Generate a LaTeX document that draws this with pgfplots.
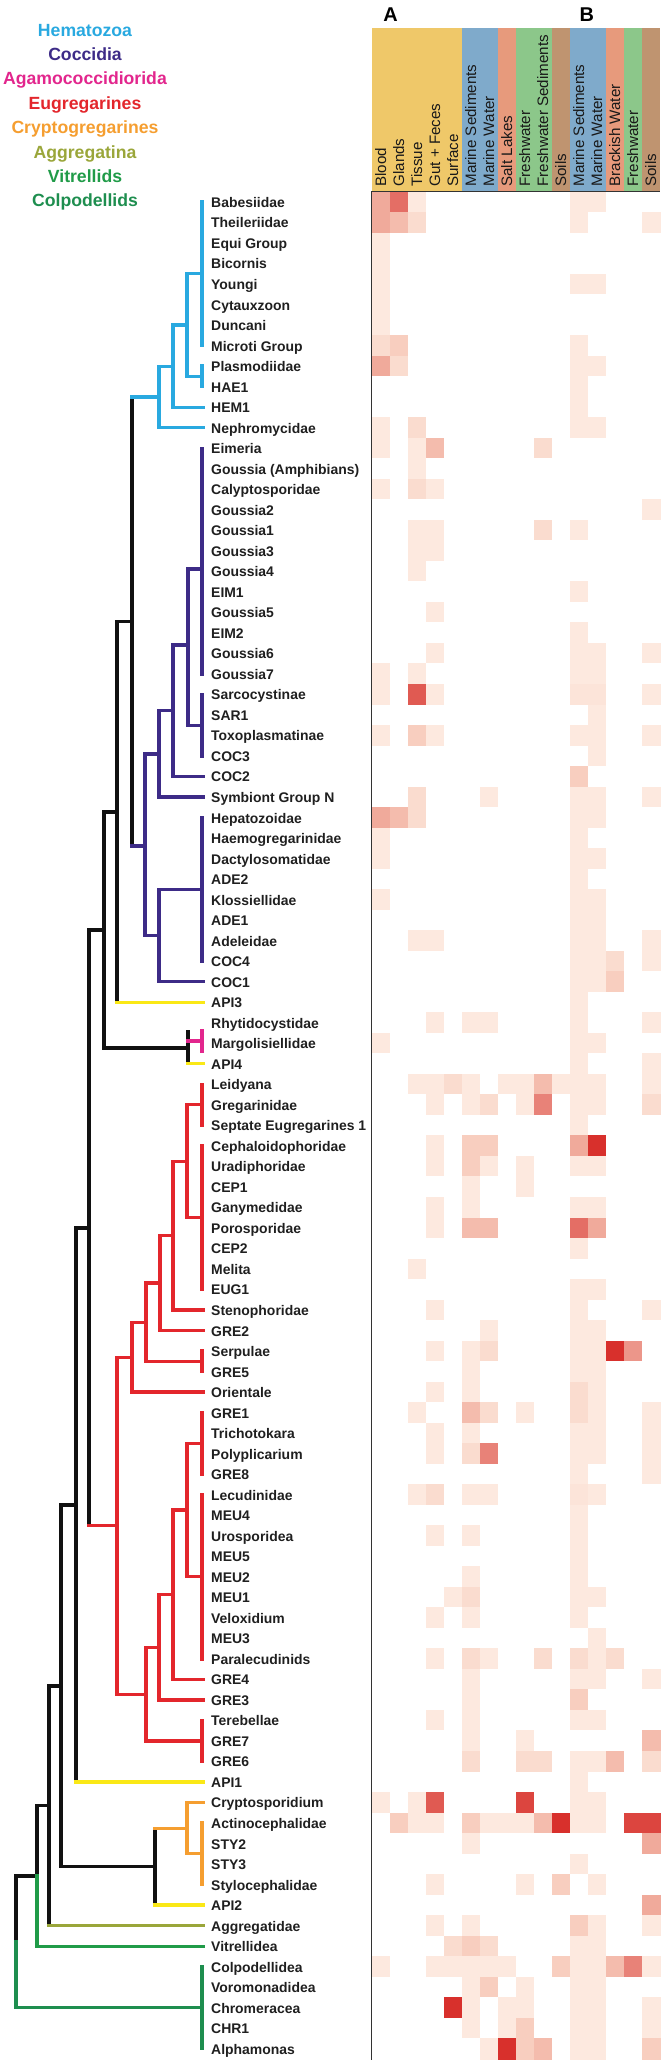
\documentclass[border=0pt]{standalone}
\usepackage{fontspec}
\setmainfont{Liberation Sans}
\usepackage{pgfplots}
\usepackage{pgfplotstable}
\pgfplotsset{compat=1.18}

\definecolor{hema}{HTML}{29A9E0}
\definecolor{cocc}{HTML}{3D2B87}
\definecolor{agam}{HTML}{E2268D}
\definecolor{eugr}{HTML}{E3262C}
\definecolor{cryp}{HTML}{F59E30}
\definecolor{aggr}{HTML}{9AA63A}
\definecolor{vitr}{HTML}{209B48}
\definecolor{colp}{HTML}{1E8E4F}
\definecolor{apiy}{HTML}{FAE816}
\definecolor{treeblk}{HTML}{111111}
\definecolor{hyel}{HTML}{EFC869}
\definecolor{hblu}{HTML}{7FAACB}
\definecolor{hsal}{HTML}{E79A7C}
\definecolor{hgrn}{HTML}{8CC78A}
\definecolor{hbrn}{HTML}{BF9470}
\definecolor{gridc}{HTML}{333333}

\tikzset{tr/.style={line width=3.3bp, line cap=rect, line join=miter},
  hdr/.style={rotate=90, anchor=west, inner sep=0pt, text height=10.9bp, text depth=0pt, text=black!90, font=\fontsize{15.2}{16}\selectfont}}
\pgfplotsset{brd/.style={color=gridc, line width=1.2bp, line cap=rect}}

% rows: taxa top to bottom; columns: A (Blood..Surface), environments A, environments B
\pgfplotstableread{
c0 c1 c2 c3 c4 c5 c6 c7 c8 c9 c10 c11 c12 c13 c14 c15
3 4.5 1 0 0 0 0 0 0 0 0 1 1 0 0 0
3 2.5 1.5 0 0 0 0 0 0 0 0 1 0 0 0 1
1 0 0 0 0 0 0 0 0 0 0 0 0 0 0 0
1 0 0 0 0 0 0 0 0 0 0 0 0 0 0 0
1 0 0 0 0 0 0 0 0 0 0 1 1 0 0 0
1 0 0 0 0 0 0 0 0 0 0 0 0 0 0 0
1 0 0 0 0 0 0 0 0 0 0 0 0 0 0 0
1.5 2 0 0 0 0 0 0 0 0 0 1 0 0 0 0
3 1.5 0 0 0 0 0 0 0 0 0 1 1 0 0 0
0 0 0 0 0 0 0 0 0 0 0 1 0 0 0 0
0 0 0 0 0 0 0 0 0 0 0 1 0 0 0 0
1 0 1.5 0 0 0 0 0 0 0 0 1 1 0 0 0
1 0 1 2.5 0 0 0 0 0 1.5 0 0 0 0 0 0
0 0 1 0 0 0 0 0 0 0 0 0 0 0 0 0
1 0 1.5 1 0 0 0 0 0 0 0 0 0 0 0 0
0 0 0 0 0 0 0 0 0 0 0 0 0 0 0 1
0 0 1 1 0 0 0 0 0 1.5 0 1 0 0 0 0
0 0 1 1 0 0 0 0 0 0 0 0 0 0 0 0
0 0 1 0 0 0 0 0 0 0 0 0 0 0 0 0
0 0 0 0 0 0 0 0 0 0 0 1 0 0 0 0
0 0 0 1 0 0 0 0 0 0 0 0 0 0 0 0
0 0 0 0 0 0 0 0 0 0 0 1 0 0 0 0
0 0 0 1 0 0 0 0 0 0 0 1 1 0 0 1
1 0 1 0 0 0 0 0 0 0 0 1 1 0 0 0
1 0 5 1 0 0 0 0 0 0 0 1.2 1.2 0 0 1
0 0 0 0 0 0 0 0 0 0 0 0 1 0 0 0
1 0 2 1 0 0 0 0 0 0 0 1 1 0 0 1
0 0 0 0 0 0 0 0 0 0 0 0 1 0 0 0
0 0 0 0 0 0 0 0 0 0 0 2 0 0 0 0
0 0 1.5 0 0 0 1 0 0 0 0 1 1 0 0 1
3 2.5 1.5 0 0 0 0 0 0 0 0 1 1 0 0 0
1 0 0 0 0 0 0 0 0 0 0 1 0 0 0 0
1 0 0 0 0 0 0 0 0 0 0 1 1 0 0 0
0 0 0 0 0 0 0 0 0 0 0 1 0 0 0 0
1 0 0 0 0 0 0 0 0 0 0 1 1 0 0 0
0 0 0 0 0 0 0 0 0 0 0 1 1 0 0 0
0 0 1 1 0 0 0 0 0 0 0 1 1 0 0 1
0 0 0 0 0 0 0 0 0 0 0 1 1 1.5 0 1
0 0 0 0 0 0 0 0 0 0 0 1 1 2 0 0
0 0 0 0 0 0 0 0 0 0 0 1 0 0 0 0
0 0 0 1 0 1 1 0 0 0 0 1 0 0 0 1
1 0 0 0 0 0 0 0 0 0 0 1 1 0 0 0
0 0 0 0 0 0 0 0 0 0 0 1 0 0 0 1
0 0 1 1 1.5 1 0 1 1 2.5 1 1 1 0 0 1
0 0 0 1 0 1 1.5 0 1 4 0 1 1 0 0 1.5
0 0 0 0 0 0 0 0 0 0 0 1 0 0 0 0
0 0 0 1 0 2 2 0 0 0 0 3 6 0 0 0
0 0 0 1 0 2 1 0 1 0 0 1 1 0 0 0
0 0 0 0 0 1 0 0 1 0 0 0 0 0 0 0
0 0 0 1 0 1 0 0 0 0 0 1 1 0 0 0
0 0 0 1 0 2.5 2.5 0 0 0 0 4.5 3 0 0 0
0 0 0 0 0 0 0 0 0 0 0 1 0 0 0 0
0 0 1 0 0 0 0 0 0 0 0 0 0 0 0 0
0 0 0 0 0 0 0 0 0 0 0 1 1 0 0 0
0 0 0 1 0 0 0 0 0 0 0 1 0 0 0 1
0 0 0 0 0 0 1 0 0 0 0 1 1 0 0 0
0 0 0 1 0 1 1.5 0 0 0 0 1 1 6 3.5 0
0 0 0 0 0 1 0 0 0 0 0 1 1 0 0 0
0 0 0 1 0 1 0 0 0 0 0 1.5 1 0 0 0
0 0 1 0 0 2.5 1.5 0 1 0 0 1.5 1 0 0 1
0 0 0 1 0 1 0 0 0 0 0 1 1 0 0 1
0 0 0 1 0 1.5 4 0 0 0 0 1 1 0 0 1
0 0 0 0 0 0 0 0 0 0 0 1 0 0 0 1
0 0 1 1.5 0 1 1 0 0 0 0 1.2 1 0 0 0
0 0 0 0 0 0 0 0 0 0 0 1 0 0 0 0
0 0 0 1 0 1 0 0 0 0 0 1 0 0 0 0
0 0 0 0 0 0 0 0 0 0 0 1 0 0 0 0
0 0 0 0 0 1 0 0 0 0 0 1 0 0 0 0
0 0 0 0 1 1.5 0 0 0 0 0 1 1 0 0 0
0 0 0 1 0 1 0 0 0 0 0 1 0 0 0 0
0 0 0 0 0 0 0 0 0 0 0 0 1 0 0 0
0 0 0 1 0 1.5 1 0 0 1.5 0 1.5 1 1.5 0 0
0 0 0 0 0 1 0 0 0 0 0 1 1 0 0 1
0 0 0 0 0 1 0 0 0 0 0 2 0 0 0 0
0 0 0 1 0 1 0 0 0 0 0 1 1 0 0 0
0 0 0 0 0 1 0 0 1 0 0 0 0 0 0 2.5
0 0 0 0 0 1.5 0 0 1.5 1.5 0 1 1 2.5 0 1.5
0 0 0 0 0 0 0 0 0 0 0 1 0 0 0 0
1 0 1 5 0 0 0 0 5.5 0 0 1 1 0 0 0
0 2 1 1 0 2 1 1 1 2.5 6 1 1 0 5.5 5.5
0 0 0 0 0 1 0 0 0 0 0 0 0 0 0 3
0 0 0 0 0 0 0 0 0 0 0 1 0 0 0 0
0 0 0 1 0 0 0 0 1 0 2 0 1 0 0 0
0 0 0 0 0 0 0 0 0 0 0 0 0 0 0 3
0 0 0 1 0 1 0 0 0 0 0 2 1 0 0 1
0 0 0 0 1.5 2 1.5 0 0 0 0 1 1 0 0 0
1 0 0 1 1 1 1 1 0 0 2 1 1 2.5 4 1
0 0 0 0 0 1 2 0 1 0 0 1 1 0 0 0
0 0 0 0 6 1 0 1 1 0 0 1 1 0 0 1
0 0 0 0 0 1 0 1 2 0 0 1 1 0 0 1
0 0 0 0 0 0 1 6 2 2.5 0 1 1 0 0 2
}\heat

\begin{document}
\begin{tikzpicture}
% ---------- tree, legend, header and panel letters (pixel coordinates) ----------
\begin{axis}[at={(0,0)}, anchor=south west, width=666bp, height=2064bp,
  scale only axis, xmin=0, xmax=666, ymin=0, ymax=2064, y dir=reverse,
  hide axis, clip=false, unbounded coords=jump]
% header bands
\addplot[fill=hyel, draw=none] coordinates {(371.7,28.3) (461.7,28.3) (461.7,191.7) (371.7,191.7)} -- cycle;
\addplot[fill=hblu, draw=none] coordinates {(461.7,28.3) (497.7,28.3) (497.7,191.7) (461.7,191.7)} -- cycle;
\addplot[fill=hsal, draw=none] coordinates {(497.7,28.3) (515.7,28.3) (515.7,191.7) (497.7,191.7)} -- cycle;
\addplot[fill=hgrn, draw=none] coordinates {(515.7,28.3) (551.7,28.3) (551.7,191.7) (515.7,191.7)} -- cycle;
\addplot[fill=hbrn, draw=none] coordinates {(551.7,28.3) (569.7,28.3) (569.7,191.7) (551.7,191.7)} -- cycle;
\addplot[fill=hblu, draw=none] coordinates {(569.7,28.3) (605.7,28.3) (605.7,191.7) (569.7,191.7)} -- cycle;
\addplot[fill=hsal, draw=none] coordinates {(605.7,28.3) (623.7,28.3) (623.7,191.7) (605.7,191.7)} -- cycle;
\addplot[fill=hgrn, draw=none] coordinates {(623.7,28.3) (641.7,28.3) (641.7,191.7) (623.7,191.7)} -- cycle;
\addplot[fill=hbrn, draw=none] coordinates {(641.7,28.3) (659.7,28.3) (659.7,191.7) (641.7,191.7)} -- cycle;
% header labels
\node[hdr] at (axis cs:380.7,186.7) {Blood};
\node[hdr] at (axis cs:398.7,186.7) {Glands};
\node[hdr] at (axis cs:416.7,186.7) {Tissue};
\node[hdr] at (axis cs:434.7,186.7) {Gut + Feces};
\node[hdr] at (axis cs:452.7,186.7) {Surface};
\node[hdr] at (axis cs:470.7,186.7) {Marine Sediments};
\node[hdr] at (axis cs:488.7,186.7) {Marine Water};
\node[hdr] at (axis cs:506.7,186.7) {Salt Lakes};
\node[hdr] at (axis cs:524.7,186.7) {Freshwater};
\node[hdr] at (axis cs:542.7,186.7) {Freshwater Sediments};
\node[hdr] at (axis cs:560.7,186.7) {Soils};
\node[hdr] at (axis cs:578.7,186.7) {Marine Sediments};
\node[hdr] at (axis cs:596.7,186.7) {Marine Water};
\node[hdr] at (axis cs:614.7,186.7) {Brackish Water};
\node[hdr] at (axis cs:632.7,186.7) {Freshwater};
\node[hdr] at (axis cs:650.7,186.7) {Soils};
% black backbone
\addplot[tr, color=treeblk] coordinates {
 (132,396.9) (132,846) (nan,nan)
 (132,621.5) (117,621.5) (117,1002.2) (nan,nan)
 (117,811.9) (104,811.9) (104,1048) (188,1048) (nan,nan)
 (188,1032) (188,1063.8) (nan,nan)
 (104,930) (89,930) (89,1525.7) (nan,nan)
 (89,1227.9) (76,1227.9) (76,1782) (nan,nan)
 (76,1505) (61,1505) (61,1866.7) (155,1866.7) (nan,nan)
 (155,1828.2) (155,1905.1) (nan,nan)
 (61,1685.9) (49,1685.9) (49,1925.6) (nan,nan)
 (49,1805.8) (37,1805.8) (37,1876) (nan,nan)
 (37,1876) (16,1876) (16,1942)};
% Hematozoa
\addplot[tr, color=hema] coordinates {
 (202,202) (202,345.6) (nan,nan)
 (202,366.1) (202,386.6) (nan,nan)
 (202,273.8) (187,273.8) (187,376.4) (202,376.4) (nan,nan)
 (187,325.1) (173,325.1) (173,407.2) (203,407.2) (nan,nan)
 (173,366.2) (159,366.2) (159,427.7) (203,427.7) (nan,nan)
 (159,396.9) (132,396.9)};
% Coccidia
\addplot[tr, color=cocc] coordinates {
 (202,448.2) (202,673.9) (nan,nan)
 (202,694.4) (202,756.0) (nan,nan)
 (202,569) (188,569) (188,725.2) (202,725.2) (nan,nan)
 (188,645) (173,645) (173,776.5) (203,776.5) (nan,nan)
 (173,710.7) (159,710.7) (159,797.0) (203,797.0) (nan,nan)
 (202,817.6) (202,961.2) (nan,nan)
 (202,889.4) (159,889.4) (159,981.7) (203,981.7) (nan,nan)
 (159,753.9) (145,753.9) (145,935.5) (159,935.5) (nan,nan)
 (145,846) (132,846)};
% API lineages
\addplot[tr, color=apiy] coordinates {
 (117,1002.2) (203,1002.2) (nan,nan)
 (188,1063.8) (203,1063.8) (nan,nan)
 (76,1782) (203,1782) (nan,nan)
 (155,1905.1) (203,1905.1)};
% Agamococcidiorida
\addplot[tr, color=agam] coordinates {
 (202,1031) (202,1051) (nan,nan)
 (188,1041) (202,1041)};
% Eugregarines
\addplot[tr, color=eugr] coordinates {
 (202,1084.3) (202,1125.4) (nan,nan)
 (202,1145.9) (202,1289.5) (nan,nan)
 (202,1104.8) (187,1104.8) (187,1217.7) (202,1217.7) (nan,nan)
 (187,1161.3) (173,1161.3) (173,1310.0) (203,1310.0) (nan,nan)
 (173,1235.6) (160,1235.6) (160,1330.6) (203,1330.6) (nan,nan)
 (202,1351.1) (202,1371.6) (nan,nan)
 (160,1283.1) (146,1283.1) (146,1361.4) (202,1361.4) (nan,nan)
 (146,1322.2) (132,1322.2) (132,1392.1) (203,1392.1) (nan,nan)
 (132,1357.2) (117,1357.2) (117,1694.2) (146,1694.2) (nan,nan)
 (89,1525.7) (117,1525.7) (nan,nan)
 (202,1412.6) (202,1474.2) (nan,nan)
 (202,1494.7) (202,1658.9) (nan,nan)
 (202,1443.4) (187,1443.4) (187,1576.8) (202,1576.8) (nan,nan)
 (187,1510.1) (173,1510.1) (173,1679.4) (203,1679.4) (nan,nan)
 (173,1594.8) (159,1594.8) (159,1699.9) (203,1699.9) (nan,nan)
 (202,1720.4) (202,1761.5) (nan,nan)
 (159,1647.4) (146,1647.4) (146,1741.0) (202,1741.0)};
% Cryptogregarines
\addplot[tr, color=cryp] coordinates {
 (187,1802.5) (203,1802.5) (nan,nan)
 (202,1823.0) (202,1884.6) (nan,nan)
 (155,1828.2) (187,1828.2) (nan,nan)
 (187,1802.5) (187,1853.8) (202,1853.8)};
% Aggregatina
\addplot[tr, color=aggr] coordinates {(49,1925.6) (203,1925.6)};
% Vitrellids
\addplot[tr, color=vitr] coordinates {(37,1876) (37,1946.2) (203,1946.2)};
% Colpodellids
\addplot[tr, color=colp] coordinates {
 (16,1942) (16,2007.7) (202,2007.7) (nan,nan)
 (202,1966.7) (202,2048.8)};

% legend of clades
\begin{scope}[every node/.style={anchor=base, inner sep=0pt, font=\bfseries\fontsize{17.7}{20}\selectfont}]
\node[text=hema] at (axis cs:85,36) {Hematozoa};
\node[text=cocc] at (axis cs:85,60.4) {Coccidia};
\node[text=agam] at (axis cs:85,84.8) {Agamococcidiorida};
\node[text=eugr] at (axis cs:85,109.2) {Eugregarines};
\node[text=cryp] at (axis cs:85,133.6) {Cryptogregarines};
\node[text=aggr] at (axis cs:85,158) {Aggregatina};
\node[text=vitr] at (axis cs:85,182.4) {Vitrellids};
\node[text=colp] at (axis cs:85,206.8) {Colpodellids};
\end{scope}
\node[anchor=base, inner sep=0pt, font=\bfseries\fontsize{20}{22}\selectfont] at (axis cs:390.5,21.7) {A};
\node[anchor=base, inner sep=0pt, font=\bfseries\fontsize{20}{22}\selectfont] at (axis cs:586.7,21.7) {B};
\end{axis}

% ---------- heat map ----------
\begin{axis}[at={(371.7bp,1872.3bp)}, anchor=north west,
  width=288bp, height=1867.32bp, scale only axis,
  xmin=-0.5, xmax=15.5, ymin=-90.5, ymax=0.5, clip=false,
  axis line style={draw=none}, tick style={draw=none}, major tick length=0pt,
  xtick=\empty,
  ytick={-90,...,0},
  yticklabels={Alphamonas,CHR1,Chromeracea,Voromonadidea,Colpodellidea,Vitrellidea,Aggregatidae,API2,Stylocephalidae,STY3,STY2,Actinocephalidae,Cryptosporidium,API1,GRE6,GRE7,Terebellae,GRE3,GRE4,Paralecudinids,MEU3,Veloxidium,MEU1,MEU2,MEU5,Urosporidea,MEU4,Lecudinidae,GRE8,Polyplicarium,Trichotokara,GRE1,Orientale,GRE5,Serpulae,GRE2,Stenophoridae,EUG1,Melita,CEP2,Porosporidae,Ganymedidae,CEP1,Uradiphoridae,Cephaloidophoridae,Septate Eugregarines 1,Gregarinidae,Leidyana,API4,Margolisiellidae,Rhytidocystidae,API3,COC1,COC4,Adeleidae,ADE1,Klossiellidae,ADE2,Dactylosomatidae,Haemogregarinidae,Hepatozoidae,Symbiont Group N,COC2,COC3,Toxoplasmatinae,SAR1,Sarcocystinae,Goussia7,Goussia6,EIM2,Goussia5,EIM1,Goussia4,Goussia3,Goussia1,Goussia2,Calyptosporidae,Goussia (Amphibians),Eimeria,Nephromycidae,HEM1,HAE1,Plasmodiidae,Microti Group,Duncani,Cytauxzoon,Youngi,Bicornis,Equi Group,Theileriidae,Babesiidae},
  yticklabel style={anchor=base west, inner sep=0pt, xshift=-160.7bp, yshift=-5.5bp, text=black!88, font=\bfseries\fontsize{14}{16}\selectfont},
  colormap={heat}{rgb255=(255,255,255) rgb255=(253,233,223) rgb255=(248,206,191) rgb255=(240,170,155) rgb255=(232,130,120) rgb255=(224,90,82) rgb255=(216,48,44)},
  point meta min=0, point meta max=6]

% cells
\pgfplotsinvokeforeach{0,...,15}{
\addplot[scatter, only marks, mark=square*, mark size=9bp,
  mark options={yscale=1.14, line width=0.3bp},
  scatter/use mapped color={draw=mapped color, fill=mapped color},
  point meta=explicit]
  table[x expr=#1, y expr=-\coordindex, meta=c#1] {\heat};
}

% block borders
\addplot[brd] coordinates {(-0.5,0.5) (-0.5,-90.5)};
\addplot[brd] coordinates {(4.5,0.5) (4.5,-90.5)};
\addplot[brd] coordinates {(10.5,0.5) (10.5,-90.5)};
\addplot[brd] coordinates {(15.5,0.5) (15.5,-90.5)};
\addplot[brd] coordinates {(-0.5,0.5) (15.5,0.5)};
\addplot[brd] coordinates {(-0.5,-11.5) (15.5,-11.5)};
\addplot[brd] coordinates {(-0.5,-38.5) (15.5,-38.5)};
\addplot[brd] coordinates {(-0.5,-39.5) (15.5,-39.5)};
\addplot[brd] coordinates {(-0.5,-41.5) (15.5,-41.5)};
\addplot[brd] coordinates {(-0.5,-42.5) (15.5,-42.5)};
\addplot[brd] coordinates {(-0.5,-76.5) (15.5,-76.5)};
\addplot[brd] coordinates {(-0.5,-77.5) (15.5,-77.5)};
\addplot[brd] coordinates {(-0.5,-82.5) (15.5,-82.5)};
\addplot[brd] coordinates {(-0.5,-83.5) (15.5,-83.5)};
\addplot[brd] coordinates {(-0.5,-84.5) (15.5,-84.5)};
\addplot[brd] coordinates {(-0.5,-90.5) (15.5,-90.5)};
\end{axis}
\pgfresetboundingbox
\path[use as bounding box] (0,0) rectangle (666bp,2064bp);
\end{tikzpicture}
\end{document}
